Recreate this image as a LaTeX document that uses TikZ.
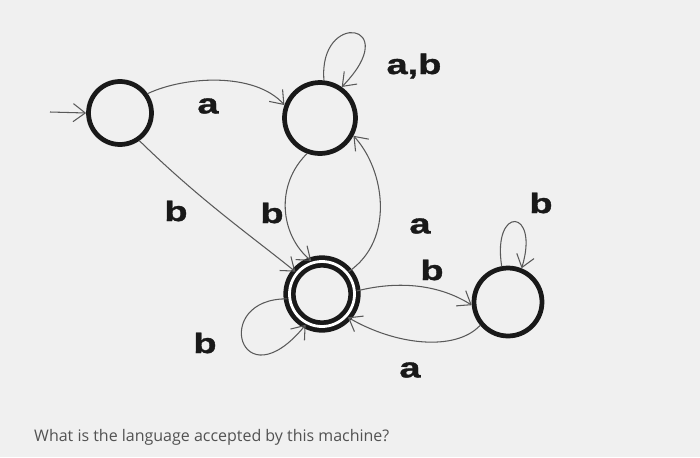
\documentclass[tikz,border=0pt]{standalone}
\usepackage{fontspec}
\setmainfont{Liberation Sans}
\newfontfamily\lblfont[FakeStretch=1.35,FakeBold=1.2]{Liberation Sans}
\newfontfamily\qfont{Open Sans}
\usetikzlibrary{arrows.meta}

\begin{document}
\begin{tikzpicture}[x=0.02cm,y=-0.02cm,
    state/.style={circle,draw=black!90,line width=2.7pt,inner sep=0pt},
    accept/.style={state,double,double distance=1.6pt},
    edge/.style={draw=black!65,line width=0.6pt,
      -{Straight Barb[length=2.4mm,width=3.6mm]}},
    lbl/.style={font=\lblfont\fontsize{16}{18}\selectfont\bfseries,text=black!90}
  ]
  \fill[black!6] (0,0) rectangle (700,457);
  % Zustaende
  \node[state,minimum size=1.26cm] (q0) at (120,113) {};
  \node[state,minimum size=1.42cm] (q1) at (320,118) {};
  \node[accept,minimum size=1.30cm] (q2) at (322,294) {};
  \node[state,minimum size=1.36cm] (q3) at (508,302) {};
  \coordinate (start) at (50,112);
  % Uebergaenge
  \draw[edge] (start) -- (q0.west);
  \draw[edge] (q0.35) .. controls (185,76) and (255,72) .. (q1.160);
  \draw[edge] (q1.84) .. controls (318,10) and (405,22) .. (q1.55);
  \draw[edge] (q0.-55) .. controls (200,200) and (250,235) .. (q2.140);
  \draw[edge] (q1.-110) .. controls (275,185) and (280,235) .. (q2.108);
  \draw[edge] (q2.40) .. controls (395,240) and (385,170) .. (q1.-28);
  \draw[edge] (q2.5) .. controls (400,280) and (440,285) .. (q3.185);
  \draw[edge] (q3.-140) .. controls (455,352) and (395,345) .. (q2.-42);
  \draw[edge] (q3.100) .. controls (492,205) and (540,208) .. (q3.68);
  \draw[edge] (q2.188) .. controls (210,298) and (240,405) .. (q2.-118);
  % Beschriftungen
  \node[lbl] (la) at (208,106) {a};
  \node[lbl] (lab) at (414,66) {a,b};
  \node[lbl] (lb1) at (176,211) {b};
  \node[lbl] (lb2) at (272,213) {b};
  \node[lbl] (la2) at (420,226) {a};
  \node[lbl] (lb3) at (432,270) {b};
  \node[lbl] (lb4) at (541,203) {b};
  \node[lbl] (lb5) at (205,343) {b};
  \node[lbl] (la3) at (410,370) {a};
  \node[anchor=west,font=\qfont\fontsize{9.1}{11}\selectfont,text=black!68]
    (frage) at (28,437) {What is the language accepted by this machine?};
\end{tikzpicture}
\end{document}
